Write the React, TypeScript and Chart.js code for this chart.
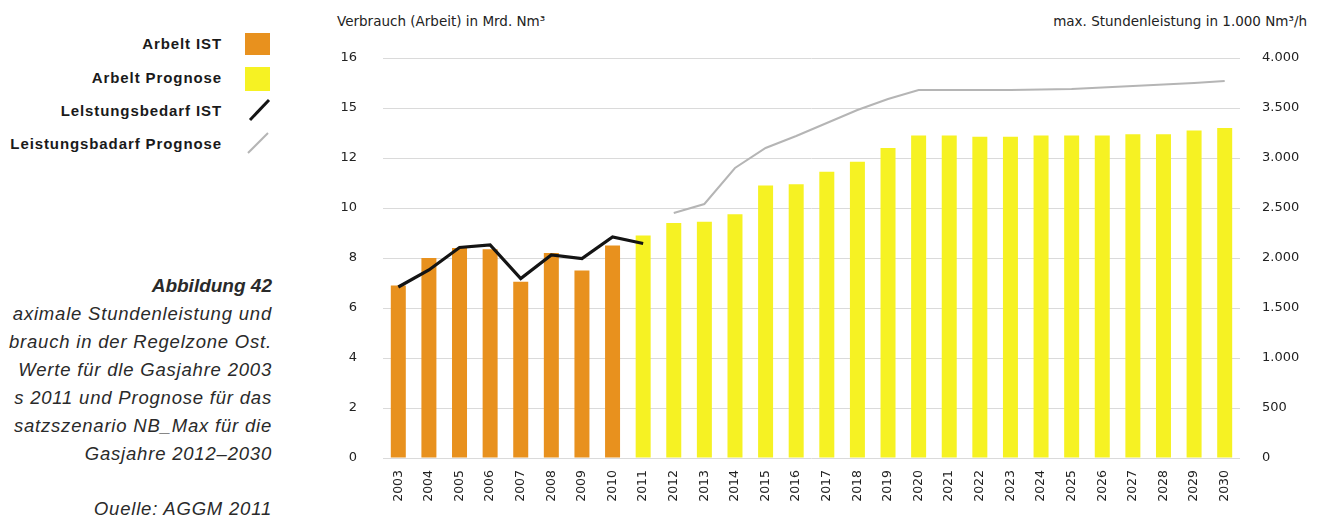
import React, { useEffect, useRef } from "react";
import { Chart, registerables } from "chart.js";

Chart.register(...registerables);

const years = [
  "2003", "2004", "2005", "2006", "2007", "2008", "2009", "2010", "2011", "2012",
  "2013", "2014", "2015", "2016", "2017", "2018", "2019", "2020", "2021", "2022",
  "2023", "2024", "2025", "2026", "2027", "2028", "2029", "2030",
];

// Verbrauch (Arbeit) in Mrd. Nm³ — left axis
const arbeitIst = [6.9, 8.0, 8.4, 8.35, 7.05, 8.2, 7.5, 8.5, null, null, null, null, null, null, null, null, null, null, null, null, null, null, null, null, null, null, null, null];
const arbeitPrognose = [null, null, null, null, null, null, null, null, 8.9, 9.4, 9.45, 9.75, 10.9, 10.95, 11.45, 11.85, 12.4, 12.9, 12.9, 12.85, 12.85, 12.9, 12.9, 12.9, 12.95, 12.95, 13.1, 13.2];

// max. Stundenleistung in 1.000 Nm³/h — right axis
const leistungIst = [1710, 1880, 2105, 2130, 1795, 2030, 1995, 2210, 2145, null, null, null, null, null, null, null, null, null, null, null, null, null, null, null, null, null, null, null];
const leistungPrognose = [null, null, null, null, null, null, null, null, null, 2450, 2540, 2900, 3100, 3220, 3350, 3480, 3590, 3680, 3680, 3680, 3680, 3685, 3690, 3705, 3720, 3735, 3750, 3770];

const leftTickLabels = ["0", "2", "4", "6", "8", "10", "12", "15", "16"];
const rightTickLabels = ["0", "500", "1.000", "1.500", "2.000", "2.500", "3.000", "3.500", "4.000"];

const legendItems = ["Arbelt IST", "Arbelt Prognose", "Lelstungsbedarf IST", "Leistungsbadarf Prognose"];
const captionTitle = "Abbildung 42";
const captionLines = [
  "aximale Stundenleistung und",
  "brauch in der Regelzone Ost.",
  "Werte für dle Gasjahre 2003",
  "s 2011 und Prognose für das",
  "satzszenario NB_Max für die",
  "Gasjahre 2012–2030",
];
const sourceLine = "Quelle: AGGM 2011";
const leftTitle = "Verbrauch (Arbeit) in Mrd. Nm³";
const rightTitle = "max. Stundenleistung in 1.000 Nm³/h";

const ORANGE = "#E8911E";
const YELLOW = "#F6F223";
const BLACK = "#141414";
const GRAY = "#B5B5B5";
const TEXT = "#222";
const FONT = "'DejaVu Sans', sans-serif";

export default function App() {
  const canvasRef = useRef<HTMLCanvasElement | null>(null);

  useEffect(() => {
    const canvas = canvasRef.current;
    if (!canvas) return;
    const chart = new Chart(canvas, {
      type: "bar",
      data: {
        labels: years,
        datasets: [
          { type: "line", label: legendItems[2], data: leistungIst, yAxisID: "y1", borderColor: BLACK, borderWidth: 3.2, pointRadius: 0, tension: 0, order: 0 },
          { type: "line", label: legendItems[3], data: leistungPrognose, yAxisID: "y1", borderColor: GRAY, borderWidth: 2, pointRadius: 0, tension: 0, order: 0 },
          { type: "bar", label: legendItems[0], data: arbeitIst, yAxisID: "y", backgroundColor: ORANGE, barPercentage: 0.49, categoryPercentage: 1, grouped: false, order: 1 },
          { type: "bar", label: legendItems[1], data: arbeitPrognose, yAxisID: "y", backgroundColor: YELLOW, barPercentage: 0.49, categoryPercentage: 1, grouped: false, order: 1 },
        ],
      } as any,
      options: {
        animation: false,
        responsive: false,
        devicePixelRatio: 1,
        layout: { padding: { top: 58, left: 0, right: 0, bottom: 0 } },
        plugins: { legend: { display: false }, tooltip: { enabled: false }, title: { display: false } },
        scales: {
          x: {
            grid: { display: false, drawTicks: false },
            border: { display: false },
            ticks: { minRotation: 90, maxRotation: 90, autoSkip: false, padding: 12, color: TEXT, font: { family: FONT, size: 12.5 } },
            afterFit: (s: any) => { s.height = 57; },
          },
          y: {
            position: "left",
            min: 0,
            max: 16,
            ticks: { stepSize: 2, padding: 26, color: TEXT, font: { family: FONT, size: 13 }, callback: (_v: any, i: number) => leftTickLabels[i] },
            grid: { color: "#dadada", lineWidth: 1, drawTicks: false },
            border: { display: false },
            afterFit: (s: any) => { s.width = 63; },
          },
          y1: {
            position: "right",
            min: 0,
            max: 4000,
            ticks: { stepSize: 500, padding: 22, color: TEXT, font: { family: FONT, size: 13 }, callback: (_v: any, i: number) => rightTickLabels[i] },
            grid: { display: false, drawTicks: false },
            border: { display: false },
            afterFit: (s: any) => { s.width = 88; },
          },
        },
      } as any,
    });
    return () => chart.destroy();
  }, []);

  const legendRowY = [44, 78, 111, 144];

  return (
    <div style={{ position: "absolute", left: 0, top: 0, width: 1328, height: 515, overflow: "hidden", background: "#fff", fontFamily: "'Liberation Sans', Arial, sans-serif" }}>
      {/* Legend */}
      {legendItems.map((t, i) => (
        <div key={t} style={{ position: "absolute", right: 1328 - 222, top: legendRowY[i] - 10, height: 20, lineHeight: "20px", fontSize: 15, fontWeight: "bold", letterSpacing: 0.9, color: "#1a1a1a", whiteSpace: "nowrap" }}>{t}</div>
      ))}
      <div style={{ position: "absolute", left: 245, top: 33, width: 25, height: 22, background: ORANGE }} />
      <div style={{ position: "absolute", left: 245, top: 67, width: 25, height: 24, background: YELLOW }} />
      <svg style={{ position: "absolute", left: 240, top: 95 }} width={40} height={65}>
        <line x1={10} y1={25} x2={29} y2={5} stroke={BLACK} strokeWidth={3} />
        <line x1={8} y1={58} x2={28} y2={38} stroke={GRAY} strokeWidth={2} />
      </svg>

      {/* Caption */}
      <div style={{ position: "absolute", right: 1328 - 272, top: 272, textAlign: "right", color: "#2a2a2a", whiteSpace: "nowrap" }}>
        <div style={{ fontSize: 19, fontWeight: "bold", fontStyle: "italic", lineHeight: "28px" }}>{captionTitle}</div>
        {captionLines.map((l) => (
          <div key={l} style={{ fontSize: 18.5, fontStyle: "italic", lineHeight: "28px", letterSpacing: 0.8 }}>{l}</div>
        ))}
        <div style={{ fontSize: 18.5, fontStyle: "italic", lineHeight: "28px", marginTop: 27, letterSpacing: 0.8 }}>{sourceLine}</div>
      </div>

      {/* Axis titles */}
      <div style={{ position: "absolute", left: 337, top: 13, fontFamily: FONT, fontSize: 13.5, color: TEXT, whiteSpace: "nowrap" }}>{leftTitle}</div>
      <div style={{ position: "absolute", right: 1328 - 1307, top: 13, fontFamily: FONT, fontSize: 13.5, color: TEXT, whiteSpace: "nowrap" }}>{rightTitle}</div>

      <canvas ref={canvasRef} width={1008} height={515} style={{ position: "absolute", left: 320, top: 0, width: 1008, height: 515 }} />
    </div>
  );
}
